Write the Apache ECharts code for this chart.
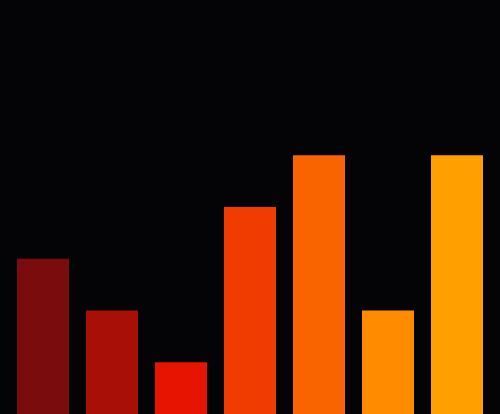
<!DOCTYPE html>
<html><head><meta charset="utf-8">
<script src="https://cdn.jsdelivr.net/npm/echarts@6/dist/echarts.min.js"></script>
<style>html,body{margin:0;padding:0;background:#040306;}#c{width:500px;height:414px;}</style>
</head><body><div id="c"></div>
<script>
var categories = ['A','B','C','D','E','F','G'];
var values = [3, 2, 1, 4, 5, 2, 5];
var colors = ['#7a0c0e','#a80f07','#e61400','#f03c00','#fa6400','#ff8c00','#ffa000'];
var chart = echarts.init(document.getElementById('c'));
chart.setOption({
  backgroundColor: '#040306',
  animation: false,
  grid: {left: 8.5, right: 8.5, top: 0, bottom: 0},
  xAxis: {type: 'category', data: categories, show: false},
  yAxis: {type: 'value', min: 0, max: 8, show: false},
  series: [{
    type: 'bar',
    barWidth: 52,
    data: values.map(function(v, i){ return {value: v, itemStyle: {color: colors[i]}}; })
  }]
});
</script></body></html>
